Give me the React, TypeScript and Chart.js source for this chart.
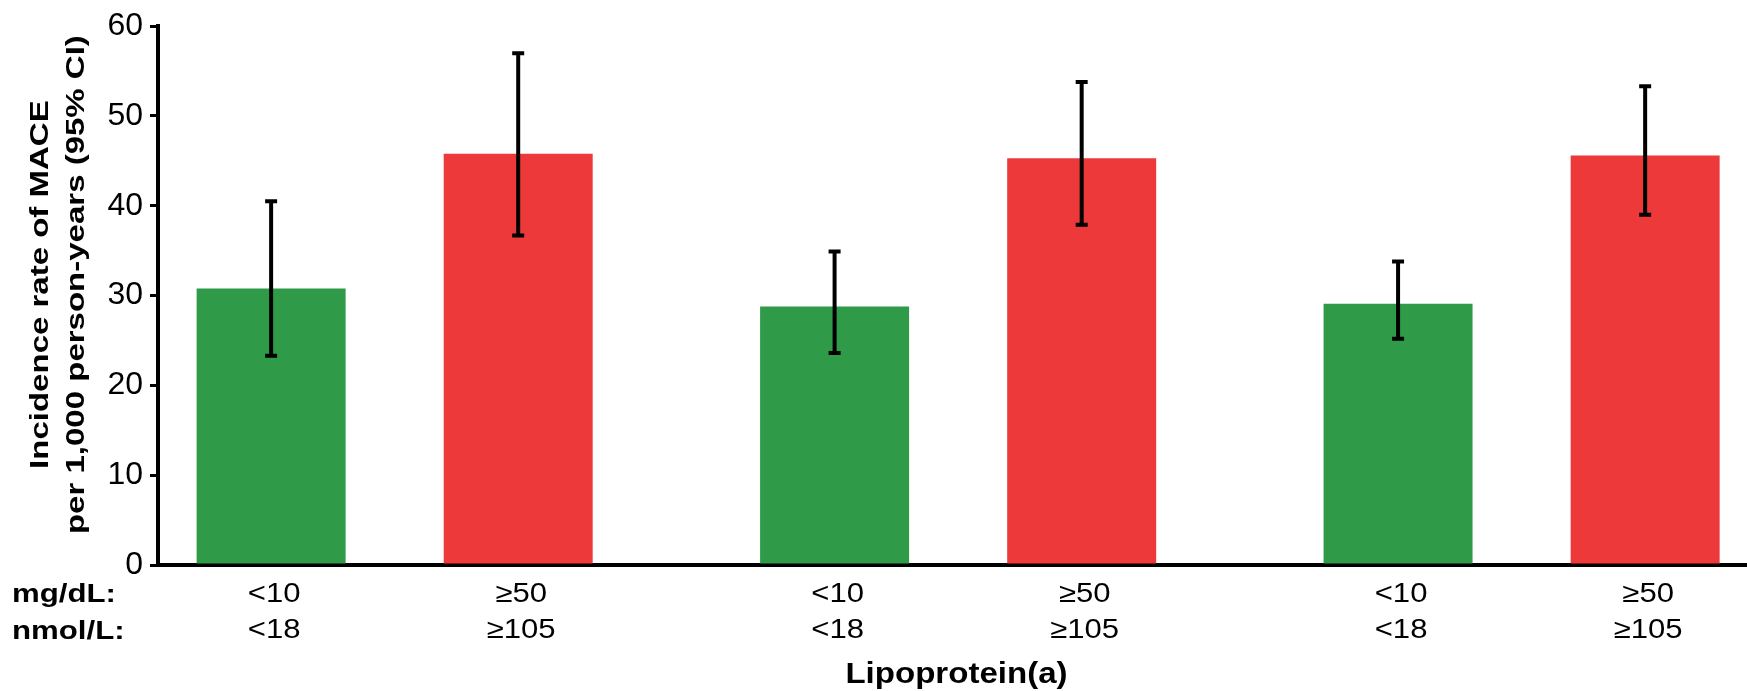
import React, { useEffect, useRef } from "react";
import { Chart, registerables } from "chart.js";

Chart.register(...registerables);

// ---- data ----
const groups = [1, 2, 3];
const lowRate = [30.8, 28.8, 29.1];
const lowCiLower = [23.3, 23.6, 25.2];
const lowCiUpper = [40.5, 34.9, 33.8];
const highRate = [45.8, 45.3, 45.6];
const highCiLower = [36.7, 37.9, 39.0];
const highCiUpper = [57.0, 53.8, 53.3];
const mgdlLabels = ["<10", "≥50"];
const nmolLabels = ["<18", "≥105"];
const rowLabels = ["mg/dL:", "nmol/L:"];
const xTitle = "Lipoprotein(a)";
const yTitleLines = ["Incidence rate of MACE", "per 1,000 person-years (95% CI)"];

const GREEN = "#2F9A48";
const RED = "#EE393B";
const FONT = "'Liberation Sans', Arial, Helvetica, sans-serif";

function drawStretched(
  ctx: CanvasRenderingContext2D,
  text: string,
  x: number,
  y: number,
  font: string,
  sx: number,
  align: CanvasTextAlign,
  rotate = 0
) {
  ctx.save();
  ctx.translate(x, y);
  if (rotate) ctx.rotate(rotate);
  ctx.scale(sx, 1);
  ctx.font = font;
  ctx.fillStyle = "#000";
  ctx.textAlign = align;
  ctx.textBaseline = "alphabetic";
  ctx.fillText(text, 0, 0);
  ctx.restore();
}

const ciLower = [lowCiLower, highCiLower];
const ciUpper = [lowCiUpper, highCiUpper];
const barLabels = [
  [mgdlLabels[0], nmolLabels[0]],
  [mgdlLabels[1], nmolLabels[1]],
];

const annotations = {
  id: "annotations",
  afterDatasetsDraw(chart: any) {
    const ctx: CanvasRenderingContext2D = chart.ctx;
    const yScale = chart.scales.y;
    chart.data.datasets.forEach((_ds: any, di: number) => {
      const meta = chart.getDatasetMeta(di);
      meta.data.forEach((el: any, i: number) => {
        const x = el.x;
        const yTop = yScale.getPixelForValue(ciUpper[di][i]);
        const yBot = yScale.getPixelForValue(ciLower[di][i]);
        ctx.save();
        ctx.strokeStyle = "#000";
        ctx.lineWidth = 4;
        ctx.beginPath();
        ctx.moveTo(x, yTop);
        ctx.lineTo(x, yBot);
        ctx.stroke();
        ctx.beginPath();
        ctx.moveTo(x - 6, yTop);
        ctx.lineTo(x + 6, yTop);
        ctx.moveTo(x - 6, yBot);
        ctx.lineTo(x + 6, yBot);
        ctx.stroke();
        ctx.restore();
      });
    });
  },
  afterDraw(chart: any) {
    const ctx: CanvasRenderingContext2D = chart.ctx;
    const area = chart.chartArea;
    const labelFont = `27px ${FONT}`;
    chart.data.datasets.forEach((_ds: any, di: number) => {
      const meta = chart.getDatasetMeta(di);
      meta.data.forEach((el: any) => {
        drawStretched(ctx, barLabels[di][0], el.x + 3, area.bottom + 37, labelFont, 1.15, "center");
        drawStretched(ctx, barLabels[di][1], el.x + 3, area.bottom + 73, labelFont, 1.15, "center");
      });
    });
    const boldLab = `bold 26px ${FONT}`;
    drawStretched(ctx, rowLabels[0], 12, area.bottom + 37, boldLab, 1.2, "left");
    drawStretched(ctx, rowLabels[1], 12, area.bottom + 74, boldLab, 1.2, "left");
    drawStretched(
      ctx,
      xTitle,
      (area.left + area.right) / 2 + 4,
      area.bottom + 118,
      `bold 29px ${FONT}`,
      1.14,
      "center"
    );
    const cy = (area.top + area.bottom) / 2 - 11;
    const yFont = `bold 25px ${FONT}`;
    drawStretched(ctx, yTitleLines[0], 48, cy, yFont, 1.32, "center", -Math.PI / 2);
    drawStretched(ctx, yTitleLines[1], 84, cy, yFont, 1.32, "center", -Math.PI / 2);
  },
};

export default function App() {
  const ref = useRef<HTMLCanvasElement | null>(null);
  useEffect(() => {
    if (!ref.current) return;
    const chart = new Chart(ref.current, {
      type: "bar",
      data: {
        datasets: [
          {
            label: "Low Lp(a)",
            data: groups.map((g, i) => ({ x: g, y: lowRate[i] })),
            backgroundColor: GREEN,
            borderWidth: 0,
          },
          {
            label: "High Lp(a)",
            data: groups.map((g, i) => ({ x: g, y: highRate[i] })),
            backgroundColor: RED,
            borderWidth: 0,
          },
        ],
      },
      options: {
        responsive: false,
        animation: false,
        categoryPercentage: 0.877,
        barPercentage: 0.603,
        layout: { padding: { top: 19, left: 0, right: 0, bottom: 0 } },
        plugins: {
          legend: { display: false },
          tooltip: { enabled: false },
          title: { display: false },
        },
        scales: {
          x: {
            type: "linear",
            offset: false,
            min: 0.58,
            max: 3.4,
            ticks: { display: false, stepSize: 1, includeBounds: false },
            grid: { display: true, offset: false, drawOnChartArea: false, drawTicks: false, lineWidth: 0 },
            border: { display: true, color: "#000", width: 4 },
            afterFit: (scale: any) => {
              scale.height = 126;
            },
          },
          y: {
            min: 0,
            max: 60,
            ticks: {
              stepSize: 10,
              color: "#000",
              padding: 7,
              font: { family: FONT, size: 32 },
            },
            grid: {
              drawOnChartArea: false,
              drawTicks: true,
              tickLength: 8,
              tickWidth: 3,
              tickColor: "#000",
              color: "#000",
              lineWidth: 3,
            },
            border: { display: true, color: "#000", width: 4 },
            afterFit: (scale: any) => {
              scale.width = 158;
            },
          },
        },
      },
      plugins: [annotations],
    } as any);
    return () => chart.destroy();
  }, []);
  return (
    <div style={{ position: "absolute", left: 0, top: 0, width: 1747, height: 691, background: "#fff" }}>
      <canvas ref={ref} width={1747} height={691} />
    </div>
  );
}
